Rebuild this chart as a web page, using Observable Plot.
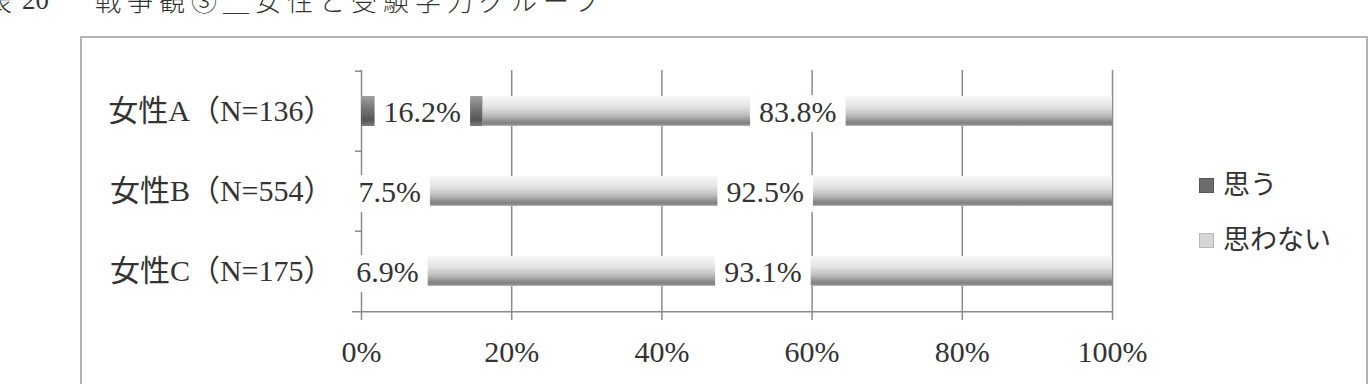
<!DOCTYPE html>
<html>
<head>
<meta charset="utf-8">
<script src="https://cdn.jsdelivr.net/npm/d3@7"></script>
<script src="https://cdn.jsdelivr.net/npm/@observablehq/plot@0.6"></script>
<style>
  html, body { margin: 0; padding: 0; background: #fff; }
  #wrap { position: relative; width: 1372px; height: 384px; overflow: hidden; background: #fff; }
  #frame { position: absolute; left: 80px; top: 36px; width: 1288px; height: 400px; border: 2px solid #b2b2b2; box-sizing: border-box; }
  #chart { position: absolute; left: 0; top: 0; }
  .title { position: absolute; top: -13px; font-family: "Noto Sans CJK JP", sans-serif; font-weight: 300; font-size: 26px; line-height: 26px; color: #333; white-space: nowrap; }
  .legend { position: absolute; left: 1199px; font-family: "Liberation Serif", "Noto Sans CJK JP", serif; font-size: 27px; color: #333; white-space: nowrap; }
  .legend .sw { position: absolute; left: 0; width: 15px; height: 15px; box-sizing: border-box; }
  .legend .tx { position: absolute; left: 24px; line-height: 30px; }
</style>
</head>
<body>
<div id="wrap">
  <div class="title" style="left:-14px">表</div>
  <div class="title" style="left:22px; font-family:'Liberation Serif'; font-size:27px">20</div>
  <div class="title" style="left:95px; letter-spacing:6px">戦争観③＿女性と受験学力グループ</div>
  <div id="frame"></div>
  <div id="chart"></div>
  <div id="legend"></div>
</div>
<script>
// ---- data ----
const categories = ["女性A（N=136）", "女性B（N=554）", "女性C（N=175）"];
const series = ["思う", "思わない"];
const omou = [16.2, 7.5, 6.9];
const omowanai = [83.8, 92.5, 93.1];
const xTicks = [0, 20, 40, 60, 80, 100];

// ---- layout ----
const W = 1372, H = 384;
const mL = 361, mR = 260, mT = 70, mB = 72;
const step = (H - mT - mB) / categories.length;

const data = [];
categories.forEach((c, i) => {
  data.push({cat: c, series: series[0], value: omou[i]});
  data.push({cat: c, series: series[1], value: omowanai[i]});
});

const serif = "'Liberation Serif', 'Noto Sans CJK JP', serif";
const fmt = v => v.toFixed(1) + "%";

const chart = Plot.plot({
  width: W, height: H,
  marginLeft: mL, marginRight: mR, marginTop: mT, marginBottom: mB,
  style: {fontFamily: serif, fontSize: "30px", color: "#333", background: "transparent", overflow: "visible"},
  x: {domain: [0, 100], ticks: xTicks, label: null},
  y: {domain: categories, padding: 0, label: null},
  color: {domain: series, range: ["url(#gDark)", "url(#gLight)"]},
  marks: [
    Plot.gridX(xTicks, {stroke: "#8a8a8a", strokeOpacity: 1, strokeWidth: 1.5}),
    Plot.ruleY(categories, {y: d => d, x1: -0.8, x2: 0, dy: -step / 2, stroke: "#8a8a8a", strokeWidth: 1.5}),
    Plot.ruleY([categories[categories.length - 1]], {y: d => d, x1: -1.2, x2: 100, dy: step / 2, stroke: "#8a8a8a", strokeWidth: 1.5}),
    Plot.barX(data, Plot.stackX({x: "value", y: "cat", fill: "series", order: series, insetTop: 25, insetBottom: 25})),
    Plot.text(data, Plot.stackX({x: "value", y: "cat", z: "series", order: series,
      text: d => fmt(d.value), fill: "#333", fontSize: 30, dy: 1})),
    Plot.axisX({ticks: xTicks, tickSize: 8, tickPadding: 20, tickFormat: d => d + "%", stroke: "#8a8a8a", fill: "#333", fontSize: 30, strokeWidth: 1.5}),
    Plot.axisY({tickSize: 0, tickPadding: 28, fill: "#333", fontSize: 30, label: null})
  ]
});

document.getElementById("chart").appendChild(chart);

// gradients for the shaded bars
const svg = d3.select(chart);
const defs = svg.insert("defs", ":first-child");
const gD = defs.append("linearGradient").attr("id", "gDark").attr("x1", 0).attr("y1", 0).attr("x2", 0).attr("y2", 1);
[["0%", "#a0a0a0"], ["35%", "#7c7c7c"], ["80%", "#555"], ["100%", "#7c7c7c"]].forEach(([o, c]) => gD.append("stop").attr("offset", o).attr("stop-color", c));
const gL = defs.append("linearGradient").attr("id", "gLight").attr("x1", 0).attr("y1", 0).attr("x2", 0).attr("y2", 1);
[["0%", "#f8f8f8"], ["35%", "#e4e4e4"], ["65%", "#bcbcbc"], ["85%", "#8a8a8a"], ["93%", "#808080"], ["100%", "#bbbbbb"]].forEach(([o, c]) => gL.append("stop").attr("offset", o).attr("stop-color", c));

// white boxes behind data labels
const labelSet = new Set(data.map(d => fmt(d.value)));
svg.selectAll("text").filter(function() { return labelSet.has(this.textContent); }).each(function() {
  const b = this.getBBox();
  const padX = 9, padY = 2;
  const r = document.createElementNS("http://www.w3.org/2000/svg", "rect");
  r.setAttribute("x", b.x - padX);
  r.setAttribute("y", b.y - padY + 2);
  r.setAttribute("width", b.width + 2 * padX);
  r.setAttribute("height", b.height + 2 * padY);
  r.setAttribute("fill", "#fff");
  const t = this.getAttribute("transform");
  if (t) r.setAttribute("transform", t);
  this.parentNode.insertBefore(r, this);
});

// legend
const legend = document.getElementById("legend");
const swFill = ["#6c6c6c", "#d6d6d6"];
const swStroke = ["#555", "#b8b8b8"];
const legTop = [170, 225];
series.forEach((s, i) => {
  const item = document.createElement("div");
  item.className = "legend";
  item.style.top = legTop[i] + "px";
  item.innerHTML = `<div class="sw" style="top:8px;background:${swFill[i]};border:1px solid ${swStroke[i]}"></div><div class="tx">${s}</div>`;
  legend.appendChild(item);
});
</script>
</body>
</html>
